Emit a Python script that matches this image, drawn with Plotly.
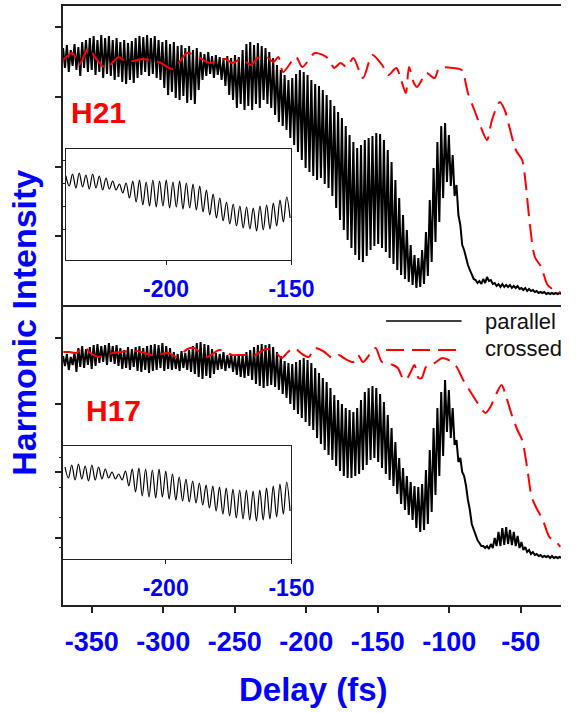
import plotly.graph_objects as go

# ---------------- data ----------------
# fast-oscillating "parallel" signal: one max and one min per optical cycle
CYCLE_START = -370.0     # fs, first sampled cycle
CYCLE_PERIOD = 2.67      # fs, optical cycle of the fringes

H21_PAR_MAX = [25.8, 26.1, 25.6, 26.2, 25.9, 26.4, 26.6, 26.8, 27.0, 26.6,
               27.1, 26.8, 27.0, 26.6, 26.8, 26.4, 26.6, 26.3, 26.5, 26.8,
               27.0, 26.9, 27.1, 26.8, 27.0, 26.6, 26.4, 26.6, 26.2, 26.4,
               26.0, 26.1, 25.8, 26.0, 25.6, 25.8, 25.4, 25.2, 25.4, 25.0,
               25.1, 24.9, 24.8, 25.0, 24.8, 25.1, 24.9, 25.6, 26.2, 26.4,
               26.1, 26.3, 26.0, 25.8, 25.4, 24.8, 24.1, 23.6, 23.1, 22.6,
               22.8, 23.2, 23.6, 23.4, 23.1, 22.6, 22.2, 22.0, 21.6, 21.1,
               20.6, 20.0, 19.4, 18.8, 18.0, 17.1, 16.4, 15.8, 16.1, 16.6,
               16.8, 17.0, 17.3, 17.2, 16.6, 15.6, 14.4, 12.6, 10.8, 9.1,
               7.6, 6.1, 5.1, 4.8, 5.6, 7.4, 10.6, 13.8, 16.4, 18.0,
               18.3, 17.1, 15.1, 12.1, 8.1, 5.6, 4.1, 3.1, 2.6, 2.5,
               2.7, 2.9, 2.6, 2.3, 2.2, 2.2, 2.1, 2.1, 2.0, 2.0,
               1.8, 1.8, 1.7, 1.6, 1.5, 1.4, 1.4, 1.3, 1.3, 1.3, 1.3]
H21_PAR_MIN = [23.8, 23.4, 24.0, 23.6, 23.0, 23.8, 23.4, 23.6, 23.1, 23.4,
               22.8, 23.2, 23.0, 22.6, 22.9, 22.4, 22.2, 22.6, 22.3, 22.8,
               23.1, 23.4, 23.0, 23.2, 22.8, 22.6, 21.8, 21.1, 21.4, 20.8,
               20.6, 21.0, 20.3, 20.6, 20.2, 21.6, 22.6, 23.0, 23.2, 22.8,
               23.1, 22.6, 22.0, 21.1, 20.6, 19.8, 20.2, 19.6, 20.0, 19.6,
               20.2, 19.8, 20.6, 20.2, 19.8, 19.1, 18.4, 18.0, 17.6, 16.8,
               16.1, 15.4, 14.6, 13.8, 13.4, 13.0, 12.6, 12.8, 12.2, 11.8,
               11.0, 9.8, 8.6, 7.6, 6.6, 5.8, 5.1, 4.6, 4.4, 5.0,
               5.6, 6.0, 6.2, 5.8, 5.4, 4.8, 4.2, 3.6, 3.1, 2.7,
               2.4, 2.1, 1.8, 1.9, 2.2, 3.0, 4.4, 6.4, 8.4, 10.8,
               12.4, 12.0, 11.0, 9.1, 6.1, 4.8, 3.6, 2.7, 2.3, 2.2,
               2.3, 2.5, 2.2, 2.0, 1.9, 1.9, 1.9, 1.8, 1.8, 1.7,
               1.6, 1.5, 1.5, 1.4, 1.3, 1.3, 1.2, 1.2, 1.2, 1.2, 1.2]

H17_PAR_MAX = [24.9, 25.1, 24.8, 25.3, 25.7, 25.9, 25.6, 25.8, 26.0, 26.1,
               25.9, 26.0, 26.2, 25.9, 26.0, 25.7, 25.5, 25.8, 25.6, 25.8,
               25.9, 25.7, 25.9, 26.0, 26.1, 26.0, 26.2, 25.9, 25.7, 25.3,
               25.1, 25.4, 25.2, 25.5, 25.9, 26.2, 26.3, 26.1, 26.0, 25.6,
               25.2, 25.1, 25.3, 25.0, 25.1, 24.9, 25.1, 25.0, 25.3, 25.5,
               25.8, 26.0, 26.1, 26.0, 26.1, 25.8, 25.3, 24.9, 24.4, 24.2,
               24.1, 24.3, 24.5, 24.7, 24.5, 24.2, 23.7, 23.2, 22.7, 22.3,
               21.7, 21.0, 20.5, 20.1, 19.7, 19.5, 19.3, 19.7, 20.5, 21.3,
               21.7, 21.9, 21.7, 21.1, 20.3, 19.0, 17.7, 16.3, 14.7, 13.7,
               12.9, 12.3, 11.9, 11.8, 12.1, 13.5, 15.5, 17.7, 19.7, 21.3,
               22.5, 21.5, 19.7, 16.5, 14.7, 12.9, 10.5, 8.1, 6.9, 6.2,
               5.9, 5.9, 6.1, 6.7, 7.3, 7.7, 7.8, 7.5, 7.3, 6.9,
               6.3, 5.8, 5.5, 5.3, 5.1, 5.0, 4.9, 4.9, 4.9, 4.8, 4.8]
H17_PAR_MIN = [23.9, 23.5, 24.0, 23.3, 23.8, 23.7, 24.0, 23.6, 23.9, 24.2,
               24.3, 24.0, 24.3, 24.1, 23.9, 23.6, 23.7, 23.5, 23.8, 23.4,
               23.3, 23.5, 23.2, 23.4, 23.5, 23.7, 23.4, 23.6, 23.5, 23.6,
               23.4, 23.7, 23.5, 23.3, 23.1, 22.8, 22.6, 22.9, 22.7, 23.1,
               23.5, 23.6, 23.4, 23.7, 23.3, 23.0, 22.8, 22.7, 22.9, 22.5,
               22.1, 21.9, 21.7, 21.9, 22.0, 21.8, 21.5, 21.1, 20.7, 20.1,
               19.5, 19.1, 18.7, 18.3, 17.9, 17.5, 16.7, 16.1, 15.5, 15.0,
               14.5, 13.9, 13.4, 12.9, 12.7, 12.7, 12.9, 13.1, 13.5, 14.0,
               14.5, 14.7, 14.3, 13.7, 13.1, 12.5, 11.9, 11.1, 10.1, 9.5,
               9.0, 8.5, 7.7, 7.3, 7.5, 8.1, 9.3, 11.0, 12.9, 14.9,
               17.3, 16.7, 16.0, 14.3, 13.3, 11.9, 9.5, 7.5, 6.5, 5.9,
               5.7, 5.6, 5.7, 5.9, 5.9, 6.0, 6.1, 6.0, 5.9, 5.7,
               5.5, 5.3, 5.1, 5.0, 4.9, 4.8, 4.8, 4.7, 4.7, 4.7, 4.7]

# "crossed" signal (red dashed)
H21_CROSS_DELAY = [-370.0, -363.4, -358.9, -352.2, -347.8, -340.0, -331.1, -325.5,
                   -314.4, -303.2, -293.2, -283.2, -274.3, -267.6, -256.5, -252.0,
                   -245.3, -238.6, -234.2, -227.5, -223.0, -219.5, -216.2, -207.2,
                   -202.8, -193.9, -185.0, -180.5, -176.1, -171.6, -167.1, -160.4,
                   -153.8, -147.0, -142.6, -137.1, -133.7, -130.4, -128.2, -124.8,
                   -122.6, -118.1, -115.9, -110.3, -107.0, -97.0, -91.4, -87.0,
                   -82.5, -78.0, -73.6, -70.2, -64.7, -61.3, -58.0, -53.5,
                   -49.1, -46.9, -43.5, -40.2, -35.8, -31.3, -26.8, -22.4]
H21_CROSS = [24.6, 25.3, 24.1, 25.8, 24.9, 23.8, 24.9, 24.4,
             24.7, 24.4, 23.7, 25.3, 24.8, 24.3, 24.7, 24.3,
             24.7, 24.1, 24.8, 24.9, 24.4, 24.9, 23.4, 24.9,
             23.9, 25.3, 24.8, 23.8, 24.3, 23.9, 24.8, 22.8,
             25.1, 24.1, 23.1, 23.8, 22.6, 21.3, 23.9, 22.3,
             21.9, 22.9, 23.3, 22.8, 23.8, 23.8, 23.6, 21.3,
             19.6, 17.9, 16.6, 18.6, 20.4, 19.6, 17.9, 15.6,
             14.6, 12.6, 7.9, 4.9, 3.9, 2.1, 1.6, 1.4]

H17_CROSS_DELAY = [-369.8, -365.4, -360.9, -355.3, -350.9, -345.3, -335.3, -329.7,
                   -318.6, -307.4, -296.3, -290.7, -283.0, -278.5, -269.6, -260.7,
                   -251.8, -242.9, -238.4, -228.0, -221.7, -217.2, -212.8, -208.3,
                   -203.9, -198.3, -193.9, -188.3, -181.6, -177.1, -173.8, -167.1,
                   -163.8, -160.4, -154.9, -151.5, -147.1, -139.3, -136.0, -132.6,
                   -130.4, -127.0, -124.4, -121.5, -119.3, -116.3, -112.6, -109.3,
                   -104.8, -98.1, -94.8, -90.3, -84.7, -80.2, -74.7, -71.3,
                   -66.9, -63.5, -60.2, -56.8, -52.4, -49.1, -45.7, -42.4,
                   -39.1, -34.6, -30.1, -24.6, -22.4]
H17_CROSS = [25.3, 25.3, 25.2, 25.8, 25.2, 24.8, 25.2, 25.3,
             25.4, 25.0, 25.2, 24.8, 25.6, 25.7, 24.8, 25.5,
             25.0, 25.0, 24.8, 25.6, 25.3, 24.7, 25.3, 25.7,
             25.2, 24.8, 25.7, 25.4, 24.7, 25.0, 24.7, 24.3,
             25.0, 24.3, 25.2, 25.7, 24.3, 24.0, 23.7, 22.7,
             22.5, 23.3, 24.0, 22.7, 22.7, 23.8, 24.0, 24.3,
             24.7, 24.3, 23.8, 22.5, 21.2, 20.2, 19.2, 19.8,
             21.2, 22.0, 20.8, 19.2, 17.5, 16.5, 13.8, 10.8,
             9.7, 8.5, 6.8, 6.2, 5.8]

# insets: zoom of the parallel signal, -240 .. -150 fs
INSET_START = -240.0
H21_INSET_MAX = [8.4, 8.6, 8.7, 8.5, 8.6, 8.4, 8.2, 7.9, 7.6, 7.7,
                 7.9, 8.0, 7.8, 8.0, 7.9, 8.0, 7.8, 7.9, 7.7, 7.6,
                 7.4, 7.0, 6.6, 6.2, 5.8, 5.6, 5.4, 5.3, 5.2, 5.4,
                 5.5, 5.7, 6.0, 6.3]
H21_INSET_MIN = [7.4, 7.2, 7.3, 7.1, 7.2, 7.0, 7.1, 7.0, 6.7, 6.2,
                 5.8, 5.5, 5.4, 5.3, 5.4, 5.2, 5.3, 5.1, 5.2, 5.0,
                 4.8, 4.5, 4.2, 3.9, 3.6, 3.4, 3.2, 3.1, 2.9, 3.0,
                 3.1, 3.4, 3.8, 4.2]
H17_INSET_MAX = [9.2, 9.4, 9.5, 9.3, 9.4, 9.2, 9.0, 8.7, 8.5, 8.8,
                 9.0, 9.1, 9.0, 8.9, 9.0, 8.8, 8.5, 8.2, 8.0, 7.8,
                 7.6, 7.4, 7.3, 7.2, 7.1, 7.0, 6.9, 6.9, 6.8, 6.9,
                 7.1, 7.3, 7.5, 7.7]
H17_INSET_MIN = [8.1, 7.9, 8.0, 7.8, 7.9, 8.0, 8.1, 8.0, 7.9, 7.3,
                 6.7, 6.3, 6.2, 6.1, 6.2, 6.0, 5.9, 5.8, 5.7, 5.6,
                 5.4, 5.1, 4.8, 4.5, 4.3, 4.1, 4.0, 3.9, 3.8, 3.9,
                 4.0, 4.2, 4.5, 4.8]

X_TICKS = [-350, -300, -250, -200, -150, -100, -50]
X_TICK_TEXT = ["-350", "-300", "-250", "-200", "-150", "-100", "-50"]
INSET_TICKS = [-200, -150]
INSET_TICK_TEXT = ["-200", "-150"]
H21_YTICKS = [7.0, 13.9, 20.9, 27.9]
H17_YTICKS = [6.7, 13.3, 20.1, 26.7]
H21_INSET_YTICKS = [3.1, 5.4, 7.7, 10.0]
H17_INSET_YTICKS = [1.2, 4.2, 7.2, 10.2]

# ---------------- helpers ----------------
def fringe(start, period, hi, lo):
    xs, ys = [], []
    for k, (a, b) in enumerate(zip(hi, lo)):
        t = start + k * period
        xs += [t, t + period / 2]
        ys += [a, b]
    return xs, ys

FONT = "Liberation Sans, Arial, sans-serif"
BLUE = "#0000FF"
RED = "#FF0000"
AX = "#222222"
DASH = "18px,8px"

fig = go.Figure()

# main panels
x, y = fringe(CYCLE_START, CYCLE_PERIOD, H21_PAR_MAX, H21_PAR_MIN)
fig.add_trace(go.Scatter(x=x, y=y, mode="lines", line=dict(color="black", width=2),
                         xaxis="x", yaxis="y", showlegend=False, hoverinfo="skip"))
fig.add_trace(go.Scatter(x=H21_CROSS_DELAY, y=H21_CROSS, mode="lines",
                         line=dict(color=RED, width=2, dash=DASH, shape="spline", smoothing=0.8),
                         xaxis="x", yaxis="y", showlegend=False, hoverinfo="skip"))
x, y = fringe(CYCLE_START, CYCLE_PERIOD, H17_PAR_MAX, H17_PAR_MIN)
fig.add_trace(go.Scatter(x=x, y=y, mode="lines", line=dict(color="black", width=2),
                         xaxis="x2", yaxis="y2", showlegend=False, hoverinfo="skip"))
fig.add_trace(go.Scatter(x=H17_CROSS_DELAY, y=H17_CROSS, mode="lines",
                         line=dict(color=RED, width=2, dash=DASH, shape="spline", smoothing=0.8),
                         xaxis="x2", yaxis="y2", showlegend=False, hoverinfo="skip"))

# insets
x, y = fringe(INSET_START, CYCLE_PERIOD, H21_INSET_MAX, H21_INSET_MIN)
fig.add_trace(go.Scatter(x=x, y=y, mode="lines", line=dict(color="black", width=1.2, shape="spline"),
                         xaxis="x3", yaxis="y3", showlegend=False, hoverinfo="skip"))
x, y = fringe(INSET_START, CYCLE_PERIOD, H17_INSET_MAX, H17_INSET_MIN)
fig.add_trace(go.Scatter(x=x, y=y, mode="lines", line=dict(color="black", width=1.2, shape="spline"),
                         xaxis="x4", yaxis="y4", showlegend=False, hoverinfo="skip"))

W, H = 584, 713
L, R, T, B = 63, 0, 6, 108
PW, PH = W - L - R, H - T - B


def px_x(px):
    return (px - L) / PW


def px_y(py):
    return (H - B - py) / PH


main_tick_font = dict(family=FONT, size=27, color=BLUE, weight="bold")
inset_tick_font = dict(family=FONT, size=23, color=BLUE, weight="bold")

layout = dict(
    width=W, height=H,
    margin=dict(l=L, r=R, t=T, b=B),
    paper_bgcolor="white", plot_bgcolor="white",
    showlegend=False,
    xaxis=dict(domain=[0, 1], anchor="y", range=[-370.05, -21.94], showline=True,
               linecolor=AX, linewidth=1.5, mirror=True, ticks="", showticklabels=False,
               showgrid=False, zeroline=False),
    yaxis=dict(domain=[px_y(305), 1], anchor="x", range=[0.1, 30.0], showline=True,
               linecolor=AX, linewidth=1.5, ticks="outside", ticklen=6, tickwidth=1.5,
               tickcolor=AX, tickvals=H21_YTICKS, showticklabels=False,
               showgrid=False, zeroline=False),
    xaxis2=dict(domain=[0, 1], anchor="y2", range=[-370.05, -21.94], showline=True,
                linecolor=AX, linewidth=1.5, ticks="outside", ticklen=6, tickwidth=1.5,
                tickcolor=AX, tickvals=X_TICKS, ticktext=X_TICK_TEXT,
                tickfont=main_tick_font, ticklabelstandoff=6,
                showgrid=False, zeroline=False),
    yaxis2=dict(domain=[0, px_y(306)], anchor="x2", range=[0, 29.9], showline=True,
                linecolor=AX, linewidth=1.5, ticks="outside", ticklen=6, tickwidth=1.5,
                tickcolor=AX, tickvals=H17_YTICKS, showticklabels=False,
                showgrid=False, zeroline=False),
    xaxis3=dict(domain=[px_x(66), px_x(302)], anchor="y3", range=[-240, -150], showline=True,
                linecolor=AX, linewidth=1, mirror=True, ticks="outside", ticklen=4,
                tickcolor=AX, tickvals=INSET_TICKS, ticktext=INSET_TICK_TEXT,
                tickfont=inset_tick_font, ticklabelstandoff=4,
                showgrid=False, zeroline=False),
    yaxis3=dict(domain=[px_y(260), px_y(149)], anchor="x3", range=[0, 11.1], showline=True,
                linecolor=AX, linewidth=1, mirror=True, ticks="outside", ticklen=3,
                tickcolor=AX, tickvals=H21_INSET_YTICKS, showticklabels=False,
                showgrid=False, zeroline=False),
    xaxis4=dict(domain=[0, px_x(302)], anchor="y4", range=[-240.8, -150], showline=True,
                linecolor=AX, linewidth=1, mirror=True, ticks="outside", ticklen=4,
                tickcolor=AX, tickvals=INSET_TICKS, ticktext=INSET_TICK_TEXT,
                tickfont=inset_tick_font, ticklabelstandoff=4,
                showgrid=False, zeroline=False),
    yaxis4=dict(domain=[px_y(559), px_y(446)], anchor="x4", range=[0, 11.3], showline=True,
                linecolor=AX, linewidth=1, mirror=True, ticks="outside", ticklen=3,
                tickcolor=AX, tickvals=H17_INSET_YTICKS, showticklabels=False,
                showgrid=False, zeroline=False),
)
fig.update_layout(**layout)

ann = [
    dict(text="H21", x=px_x(100), y=px_y(113), font=dict(family=FONT, size=30, color=RED, weight="bold")),
    dict(text="H17", x=px_x(116), y=px_y(410), font=dict(family=FONT, size=30, color=RED, weight="bold")),
    dict(text="Harmonic Intensity", x=px_x(22), y=px_y(323), textangle=-90,
         font=dict(family=FONT, size=34, color=BLUE, weight="bold")),
    dict(text="Delay (fs)", x=px_x(325), y=px_y(690),
         font=dict(family=FONT, size=33, color=BLUE, weight="bold")),
    dict(text="parallel", x=px_x(502), y=px_y(321), xanchor="left",
         font=dict(family=FONT, size=22, color="#111111")),
    dict(text="crossed", x=px_x(502), y=px_y(349), xanchor="left",
         font=dict(family=FONT, size=22, color="#111111")),
]
for a in ann:
    a.setdefault("xanchor", "center")
    fig.add_annotation(xref="paper", yref="paper", yanchor="middle", showarrow=False, **a)

fig.add_shape(type="line", xref="paper", yref="paper", x0=px_x(401), x1=px_x(480),
              y0=px_y(321), y1=px_y(321), line=dict(color="black", width=1.6))
fig.add_shape(type="line", xref="paper", yref="paper", x0=px_x(401), x1=px_x(480),
              y0=px_y(350), y1=px_y(350), line=dict(color=RED, width=2, dash=DASH))

# the page's default 8px body margin would shift the whole figure; remove it
fig.write_html("out.html",
               config={"displayModeBar": False},
               post_script="document.body.style.margin='0px';document.body.style.overflow='hidden';")
